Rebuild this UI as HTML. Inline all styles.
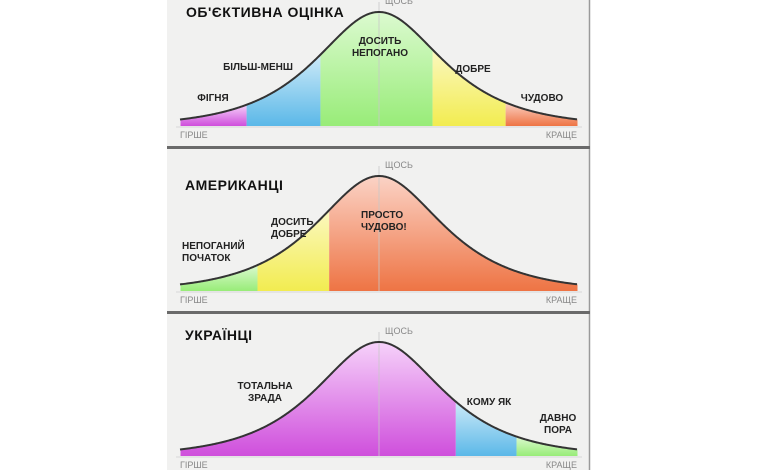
<!DOCTYPE html>
<html><head><meta charset="utf-8">
<style>
html,body{margin:0;padding:0;background:#fff;}
body{width:780px;height:470px;overflow:hidden;position:relative;font-family:"Liberation Sans","DejaVu Sans",sans-serif;}
svg text{font-family:"Liberation Sans","DejaVu Sans",sans-serif;}
</style></head><body>
<svg id="chart" width="780" height="470" viewBox="0 0 780 470" xmlns="http://www.w3.org/2000/svg">
<defs>
<linearGradient id="g-mag" x1="0" y1="0" x2="0" y2="1"><stop offset="0" stop-color="#f6d2fa"/><stop offset="1" stop-color="#cf4fdc"/></linearGradient>
<linearGradient id="g-blue" x1="0" y1="0" x2="0" y2="1"><stop offset="0" stop-color="#cdeaf8"/><stop offset="1" stop-color="#5bb8e8"/></linearGradient>
<linearGradient id="g-green" x1="0" y1="0" x2="0" y2="1"><stop offset="0" stop-color="#dcfad0"/><stop offset="1" stop-color="#98ec78"/></linearGradient>
<linearGradient id="g-yellow" x1="0" y1="0" x2="0" y2="1"><stop offset="0" stop-color="#fbf8c0"/><stop offset="1" stop-color="#f2ec50"/></linearGradient>
<linearGradient id="g-orange" x1="0" y1="0" x2="0" y2="1"><stop offset="0" stop-color="#fbd3c6"/><stop offset="1" stop-color="#ee7444"/></linearGradient>
</defs>
<rect x="167" y="0" width="422" height="470" fill="#f1f1f0"/>
<line x1="589.5" y1="0" x2="589.5" y2="470" stroke="#9a9a9a" stroke-width="1.5"/>
<rect x="167" y="146" width="423" height="3" fill="#6a6a6a"/>
<rect x="167" y="311" width="423" height="3" fill="#6a6a6a"/>
<g id="plots"></g>
</svg>
<script>
// data
const panelTitles = ["Об'єктивна оцінка", "Американці", "Українці"];
const panel1Bounds = [-1, -0.667, -0.295, 0.27, 0.638, 1];
const panel1Colors = ["mag", "blue", "green", "yellow", "orange"];
const panel1Labels = [["Фігня"], ["Більш-менш"], ["Досить", "непогано"], ["Добре"], ["Чудово"]];
const panel2Bounds = [-1, -0.612, -0.251, 1];
const panel2Colors = ["green", "yellow", "orange"];
const panel2Labels = [["Непоганий", "початок"], ["Досить", "добре"], ["Просто", "чудово!"]];
const panel3Bounds = [-1, 0.387, 0.693, 1];
const panel3Colors = ["mag", "blue", "green"];
const panel3Labels = [["Тотальна", "зрада"], ["Кому як"], ["Давно", "пора"]];
const axisLabels = ["гірше", "краще", "щось"];

const SVGNS = "http://www.w3.org/2000/svg";
const plots = document.getElementById("plots");
const x0 = 180, x1 = 577, cx = 379, S = 56 / 198.5;
const panels = [
  {base: 126, peak: 12, bounds: panel1Bounds, colors: panel1Colors, labels: panel1Labels,
   lpos: [[213,101,"middle"],[258,70,"middle"],[380,44,"middle"],[473,72,"middle"],[542,101,"middle"]], titlePos: [186,17]},
  {base: 291, peak: 176, bounds: panel2Bounds, colors: panel2Labels && panel2Colors, labels: panel2Labels,
   lpos: [[182,249,"start"],[271,225,"start"],[361,218,"start"]], titlePos: [185,190]},
  {base: 456, peak: 342, bounds: panel3Bounds, colors: panel3Colors, labels: panel3Labels,
   lpos: [[265,389,"middle"],[489,405,"middle"],[558,421,"middle"]], titlePos: [185,340]}
];
function xs(v){ return cx + v * 198.5; }
function curveY(p, x){ const d = (x - cx) / 56; return p.base - (p.base - p.peak) / Math.cosh(d); }
function mk(tag, attrs){ const e = document.createElementNS(SVGNS, tag); for (const k in attrs) e.setAttribute(k, attrs[k]); return e; }

panels.forEach((p, pi) => {
  const g = mk("g", {});
  
  
  plots.appendChild(g);
  // segments
  for (let i = 0; i < p.colors.length; i++) {
    const a = xs(p.bounds[i]), b = xs(p.bounds[i + 1]);
    let d = "M" + a + "," + p.base;
    for (let x = a; x <= b; x += 1) d += " L" + x + "," + curveY(p, x).toFixed(2);
    d += " L" + b + "," + curveY(p, b).toFixed(2) + " L" + b + "," + p.base + " Z";
    const path = mk("path", {d: d, fill: "url(#g-" + p.colors[i] + ")"});
    
    
    g.appendChild(path);
  }
  // center line
  const cl = mk("line", {x1: cx, y1: p.peak - 10, x2: cx, y2: p.base, stroke: "#c8c8c8", "stroke-width": 1, opacity: 0.8});
  
  
  g.appendChild(cl);
  // baseline
  const bl = mk("line", {x1: 176, y1: p.base + 1, x2: 582, y2: p.base + 1, stroke: "#d8d8d8", "stroke-width": 1});
  
  
  g.appendChild(bl);
  // curve outline
  let d = "";
  for (let x = x0; x <= x1; x += 1) d += (x === x0 ? "M" : " L") + x + "," + curveY(p, x).toFixed(2);
  const c = mk("path", {d: d, fill: "none", stroke: "#333", "stroke-width": 2});
  
  
  g.appendChild(c);
  // title
  const t = mk("text", {x: p.titlePos[0], y: p.titlePos[1], "font-size": 14, "font-weight": "bold", fill: "#111", "letter-spacing": "0.5"});
  t.textContent = panelTitles[pi].toUpperCase();
  
  
  g.appendChild(t);
  // axis labels
  const l1 = mk("text", {x: 180, y: p.base + 12, "font-size": 9, fill: "#888"});
  l1.textContent = axisLabels[0].toUpperCase();
  
  
  g.appendChild(l1);
  const l2 = mk("text", {x: 577, y: p.base + 12, "font-size": 9, fill: "#888", "text-anchor": "end"});
  l2.textContent = axisLabels[1].toUpperCase();
  
  
  g.appendChild(l2);
  const l3 = mk("text", {x: 385, y: p.peak - 8 + (pi === 0 ? 10 : 0), "font-size": 9, fill: "#888"});
  l3.textContent = axisLabels[2].toUpperCase();
  
  
  if (pi === 0) l3.setAttribute('y', 4);
  g.appendChild(l3);
  // segment labels
  p.labels.forEach((lines, i) => {
    const pos = p.lpos[i];
    lines.forEach((ln, j) => {
      const tx = mk("text", {x: pos[0], y: pos[1] + j * 12, "font-size": 10, "font-weight": "bold", fill: "#222", "text-anchor": pos[2]});
      tx.textContent = ln.toUpperCase();
      
      
      g.appendChild(tx);
    });
  });
});
</script>
</body></html>
